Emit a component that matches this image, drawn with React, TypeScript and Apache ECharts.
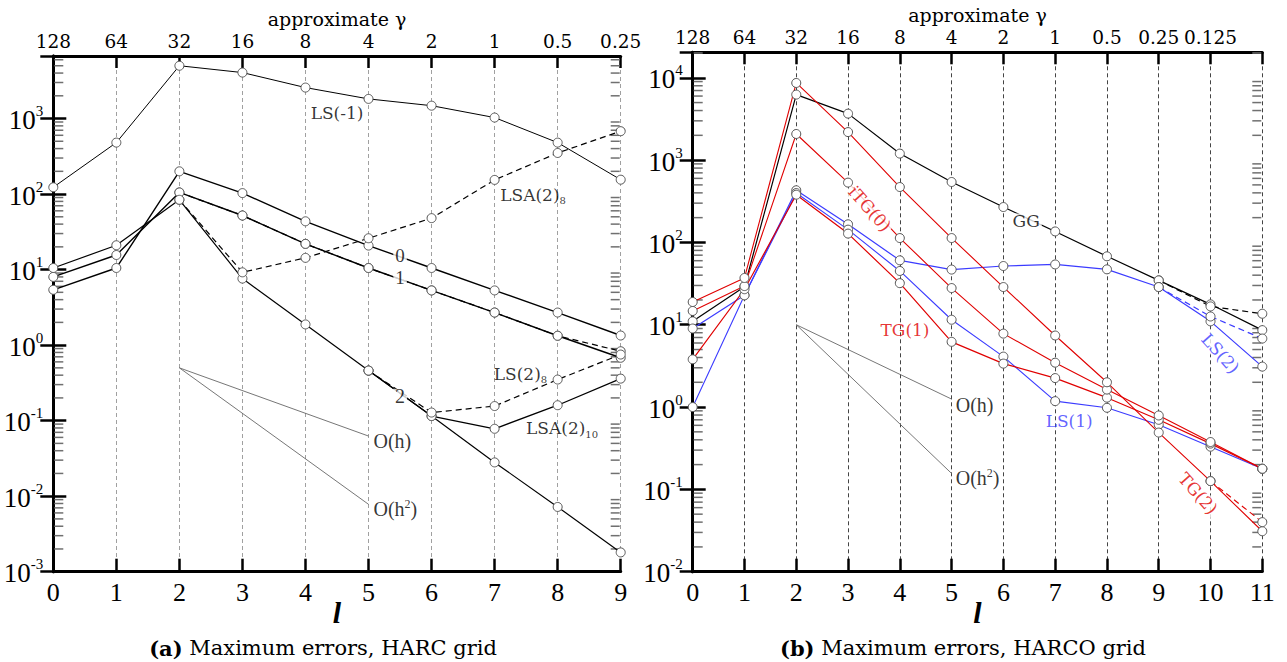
import React, { useEffect, useRef } from 'react';
import * as echarts from 'echarts';

// ---------- Axis categories / tick labels ----------
const levelsLeft = [0, 1, 2, 3, 4, 5, 6, 7, 8, 9];
const gammaLeft = ['128', '64', '32', '16', '8', '4', '2', '1', '0.5', '0.25'];
const levelsRight = [0, 1, 2, 3, 4, 5, 6, 7, 8, 9, 10, 11];
const gammaRight = ['128', '64', '32', '16', '8', '4', '2', '1', '0.5', '0.25', '0.125', ''];

// ---------- (a) HARC grid ----------
const lsMinus1 = [123, 480, 5000, 4060, 2570, 1820, 1480, 1030, 480, 155];
const level0 = [5.4, 10.5, 200, 103, 43.6, 20.8, 10.5, 5.3, 2.7, 1.34];
const level1 = [8.0, 15.6, 105, 52, 21.9, 10.5, 5.3, 2.7, 1.33, 0.68];
const level1Alt = [null, null, 105, 52, 21.9, 10.5, 5.3, 2.7, 1.33, 0.83];
const level2 = [10.5, 21, 84, 7.6, 1.88, 0.46, 0.115, 0.028, 0.0072, 0.0018];
const lsa2of8 = [null, null, 84, 9.2, 14.3, 26, 48, 154, 350, 680];
const ls2of8 = [null, null, null, null, null, 0.46, 0.128, 0.156, 0.35, 0.75];
const lsa2of10 = [null, null, null, null, null, 0.46, 0.115, 0.078, 0.16, 0.36];
const refLevels = [2, 5];
const ohLeft = [0.5, 0.0625];
const oh2Left = [0.5, 0.0078];

// ---------- (b) HARCO grid ----------
const gg = [11.0, 29, 6250, 3670, 1200, 542, 269, 136, 67.8, 34.6, 17.7, 8.6];
const ggAlt = [null, null, null, null, null, null, null, null, null, 34.6, 16.7, 13.6];
const tg2 = [18.9, 37, 8650, 2190, 471, 113, 28.7, 7.4, 2.0, 0.49, 0.126, 0.031];
const tg2Alt = [null, null, null, null, null, null, null, null, null, null, 0.126, 0.040];
const itg0 = [14.7, 29.5, 2077, 533, 113, 27.9, 7.8, 3.46, 1.63, 0.79, 0.376, 0.178];
const tg1 = [3.8, 27, 380, 128, 32, 6.2, 3.37, 2.25, 1.30, 0.70, 0.36, 0.178];
const ls2 = [9.0, 22.8, 430, 166, 60.6, 46.8, 51.7, 54, 47.1, 28.7, 11, 3.1];
const ls2Alt = [null, null, null, null, null, null, null, null, null, 28.7, 12.6, 6.8];
const ls1 = [1.0, 22.8, 398, 143, 45, 11.5, 4.1, 1.18, 0.98, 0.61, 0.33, 0.178];
const ohRight = [10, 1.25];
const oh2Right = [10, 0.156];

// ---------- styling ----------
const TIMES = '"Liberation Serif", "Times New Roman", serif';
const DV = '"DejaVu Serif", serif';
const RED = '#e00000';
const BLUE = '#3b3bff';

const leftYMin = 0.001, leftYMax = 6730;
const rightYMin = 0.01, rightYMax = 20400;

function yLabelFormatter(v: number) {
  const l = Math.log10(v);
  const e = Math.round(l);
  if (Math.abs(l - e) > 1e-6) return '';
  return `{b|10}{s|${e}}`;
}
const yRich = {
  b: { fontSize: 27, fontFamily: TIMES, lineHeight: 30, color: '#000', verticalAlign: 'bottom' },
  s: { fontSize: 15, fontFamily: TIMES, lineHeight: 20, color: '#000', verticalAlign: 'top' },
};

function makeX(gridIndex: number, levels: number[], gammas: string[], gridColor: string) {
  const max = levels[levels.length - 1];
  const bottom = {
    type: 'value', gridIndex, position: 'bottom', min: 0, max, interval: 1,
    axisLine: { show: true, onZero: false, lineStyle: { color: '#000', width: 3 } },
    axisTick: { show: true, inside: true, length: 13, lineStyle: { color: '#000', width: 2.5 } },
    axisLabel: { fontSize: 26, fontFamily: TIMES, color: '#000', margin: 8,
      formatter: (v: number) => String(levels[Math.round(v)] ?? '') },
    splitLine: { show: true, lineStyle: { color: gridColor, type: [4, 3], width: 1 } },
    name: 'l', nameLocation: 'middle', nameGap: 26, nameMoveOverlap: false,
    nameTextStyle: { fontSize: 30, fontStyle: 'italic', fontWeight: 'bold', fontFamily: TIMES, color: '#000', lineHeight: 30 },
  };
  const top = {
    type: 'value', gridIndex, position: 'top', min: 0, max, interval: 1,
    axisLine: { show: true, onZero: false, lineStyle: { color: '#000', width: 3 } },
    axisTick: { show: true, inside: true, length: 12, lineStyle: { color: '#000', width: 2.5 } },
    axisLabel: { fontSize: 18.5, fontFamily: DV, color: '#000', margin: 5,
      formatter: (v: number) => gammas[Math.round(v)] ?? '' },
    splitLine: { show: false },
    name: 'approximate γ', nameLocation: 'middle', nameGap: 28, nameMoveOverlap: false,
    nameTextStyle: { fontSize: 19, fontFamily: DV, color: '#000' },
  };
  return [bottom, top];
}

function makeY(gridIndex: number, min: number, max: number) {
  const left = {
    type: 'log', logBase: 10, gridIndex, position: 'left', min, max,
    axisLine: { show: true, lineStyle: { color: '#000', width: 3 } },
    axisTick: { show: true, inside: true, length: 13, lineStyle: { color: '#000', width: 2.5 } },
    axisLabel: { formatter: yLabelFormatter, rich: yRich, margin: 10 },
    splitLine: { show: false },
  };
  const right = {
    type: 'log', logBase: 10, gridIndex, position: 'right', min, max,
    axisLine: { show: true, lineStyle: { color: '#000', width: 3 } },
    axisTick: { show: true, inside: true, length: 13, lineStyle: { color: '#000', width: 2.5 } },
    axisLabel: { show: false },
    splitLine: { show: false },
  };
  return [left, right];
}

function minorTicks(xi: number, yi: number, yMin: number, yMax: number, xMax: number) {
  const data: number[][] = [];
  for (let d = Math.floor(Math.log10(yMin)); d <= Math.ceil(Math.log10(yMax)); d++) {
    for (let k = 2; k <= 9; k++) {
      const v = k * Math.pow(10, d);
      if (v > yMin && v < yMax) data.push([0, v]);
    }
  }
  return {
    type: 'custom', xAxisIndex: xi, yAxisIndex: yi, data, silent: true, z: 6,
    renderItem: (_p: any, api: any) => {
      const a = api.coord([0, api.value(1)]);
      const b = api.coord([xMax, api.value(1)]);
      const st = { stroke: '#707070', lineWidth: 1.5 };
      return {
        type: 'group',
        children: [
          { type: 'line', shape: { x1: a[0] + 1, y1: a[1], x2: a[0] + 10, y2: a[1] }, style: st },
          { type: 'line', shape: { x1: b[0] - 10, y1: b[1], x2: b[0] - 1, y2: b[1] }, style: st },
        ],
      };
    },
  };
}

function line(vals: (number | null)[], xi: number, yi: number, color: string, width: number, dashed = false, z = 10) {
  return {
    type: 'line', xAxisIndex: xi, yAxisIndex: yi,
    data: vals.map((v, i) => [i, v]).filter((p) => p[1] != null),
    symbol: 'circle', symbolSize: 9, showSymbol: true, clip: false,
    lineStyle: { color, width, type: dashed ? [6, 4] : 'solid' },
    itemStyle: { color: '#fff', borderColor: '#555', borderWidth: 1 },
    emphasis: { disabled: true }, silent: true, z,
  };
}

function refLine(vals: number[], xi: number, yi: number) {
  return {
    type: 'line', xAxisIndex: xi, yAxisIndex: yi,
    data: vals.map((v, i) => [refLevels[i], v]),
    symbol: 'none', clip: false,
    lineStyle: { color: '#666', width: 0.9 },
    emphasis: { disabled: true }, silent: true, z: 8,
  };
}

type Ann = { text: string; at: [number, number]; color?: string; font?: string; size?: number; rotate?: number; bg?: boolean; anchor?: 'inside' | 'right'; lh?: number };

// annotation placements (level, value)
const annLeft: Ann[] = [
  { text: 'LS(-1)', at: [4.5, 1190], font: DV, size: 17 },
  { text: '{t|LSA(2)}{sub|8}', at: [7.61, 98], font: DV, size: 17 },
  { text: '0', at: [5.5, 15.3], font: TIMES, size: 19, bg: true, lh: 14 },
  { text: '1', at: [5.5, 7.9], font: TIMES, size: 19, bg: true, lh: 14 },
  { text: '2', at: [5.5, 0.21], font: TIMES, size: 20, bg: true, lh: 15 },
  { text: '{t|LS(2)}{sub|8}', at: [7.41, 0.42], font: DV, size: 17 },
  { text: '{t|LSA(2)}{sub|10}', at: [8.07, 0.079], font: DV, size: 17 },
  { text: 'O(h)', at: [5.07, 0.053], font: TIMES, size: 20, anchor: 'right' },
  { text: '{t|O(h}{sup|2}{t|)}', at: [5.07, 0.0068], font: TIMES, size: 20, anchor: 'right' },
];
const annRight: Ann[] = [
  { text: 'GG', at: [6.44, 180], font: DV, size: 17, bg: true, lh: 16 },
  { text: 'iTG(0)', at: [3.42, 257], font: DV, size: 17, color: RED, rotate: -48, bg: true, lh: 16 },
  { text: 'TG(1)', at: [4.1, 8.55], font: DV, size: 17, color: RED },
  { text: 'LS(1)', at: [7.27, 0.67], font: DV, size: 17, color: BLUE },
  { text: 'LS(2)', at: [10.19, 4.49], font: DV, size: 17, color: BLUE, rotate: -48, bg: true, lh: 16 },
  { text: 'TG(2)', at: [9.76, 0.089], font: DV, size: 17, color: RED, rotate: -48, bg: true, lh: 16 },
  { text: 'O(h)', at: [5.07, 1.05], font: TIMES, size: 20, anchor: 'right' },
  { text: '{t|O(h}{sup|2}{t|)}', at: [5.07, 0.136], font: TIMES, size: 20, anchor: 'right' },
];

function annSeries(list: Ann[], xi: number, yi: number) {
  return {
    type: 'scatter', xAxisIndex: xi, yAxisIndex: yi, symbolSize: 1, silent: true, z: 20, clip: false,
    itemStyle: { color: 'rgba(0,0,0,0)' },
    data: list.map((a) => {
      const color = a.color ?? '#000';
      const size = a.size ?? 17;
      return {
        value: a.at,
        label: {
          show: true,
          position: a.anchor === 'right' ? 'right' : 'inside',
          distance: 0,
          formatter: a.text,
          rotate: a.rotate ?? 0,
          color, fontSize: size, fontFamily: a.font,
          lineHeight: a.lh ?? Math.round(size * 1.2),
          backgroundColor: a.bg ? '#fff' : 'transparent',
          padding: a.bg ? [0, 2] : 0,
          rich: {
            t: { fontSize: size, fontFamily: a.font, color, lineHeight: 22, verticalAlign: 'middle' },
            sub: { fontSize: 10, fontFamily: a.font, color, lineHeight: 10, verticalAlign: 'bottom' },
            sup: { fontSize: 12, fontFamily: a.font, color, lineHeight: 12, verticalAlign: 'top' },
          },
        },
      };
    }),
  };
}

const [xL0, xL1] = makeX(0, levelsLeft, gammaLeft, '#a0a0a0');
const [xR0, xR1] = makeX(1, levelsRight, gammaRight, '#444');
const [yL0, yL1] = makeY(0, leftYMin, leftYMax);
const [yR0, yR1] = makeY(1, rightYMin, rightYMax);

const captionRich = { b: { fontWeight: 'bold', fontSize: 21, fontFamily: DV } };

const option: any = {
  animation: false,
  backgroundColor: '#fff',
  grid: [
    { left: 53.3, right: 1287 - 620.7, top: 56, bottom: 662 - 571.7, containLabel: false },
    { left: 692.7, right: 1287 - 1262.3, top: 52.3, bottom: 662 - 571.7, containLabel: false },
  ],
  xAxis: [xL0, xL1, xR0, xR1],
  yAxis: [yL0, yL1, yR0, yR1],
  series: [
    minorTicks(0, 0, leftYMin, leftYMax, 9),
    minorTicks(2, 2, rightYMin, rightYMax, 11),
    refLine(ohLeft, 0, 0),
    refLine(oh2Left, 0, 0),
    line(lsMinus1, 0, 0, '#000', 1),
    line(level0, 0, 0, '#000', 1.4),
    line(level1, 0, 0, '#000', 1.4),
    line(level2, 0, 0, '#000', 1.2),
    line(lsa2of10, 0, 0, '#000', 1.3),
    line(level1Alt, 0, 0, '#000', 1.2, true),
    line(lsa2of8, 0, 0, '#000', 1.2, true),
    line(ls2of8, 0, 0, '#000', 1.2, true),
    annSeries(annLeft, 0, 0),
    refLine(ohRight, 2, 2),
    refLine(oh2Right, 2, 2),
    line(gg, 2, 2, '#000', 1.2),
    line(ggAlt, 2, 2, '#000', 1.2, true),
    line(ls2, 2, 2, BLUE, 1.2),
    line(ls2Alt, 2, 2, BLUE, 1.2, true),
    line(ls1, 2, 2, BLUE, 1.1),
    line(tg1, 2, 2, RED, 1.2),
    line(itg0, 2, 2, RED, 1.1),
    line(tg2, 2, 2, RED, 1.1),
    line(tg2Alt, 2, 2, RED, 1.1, true),
    annSeries(annRight, 2, 2),
  ],
  graphic: [
    {
      type: 'text', x: 323, y: 648,
      style: {
        text: '{b|(a)} Maximum errors, HARC grid', align: 'center', verticalAlign: 'middle',
        fontSize: 21, fontFamily: DV, fill: '#000', rich: captionRich,
      },
    },
    {
      type: 'text', x: 963, y: 648,
      style: {
        text: '{b|(b)} Maximum errors, HARCO grid', align: 'center', verticalAlign: 'middle',
        fontSize: 21, fontFamily: DV, fill: '#000', rich: captionRich,
      },
    },
  ],
};

export default function App() {
  const ref = useRef<HTMLDivElement>(null);
  useEffect(() => {
    const chart = echarts.init(ref.current!, null, { renderer: 'svg' });
    chart.setOption(option);
    return () => chart.dispose();
  }, []);
  return (
    <div
      ref={ref}
      style={{ position: 'absolute', left: 0, top: 0, width: 1287, height: 662, background: '#fff' }}
    />
  );
}
